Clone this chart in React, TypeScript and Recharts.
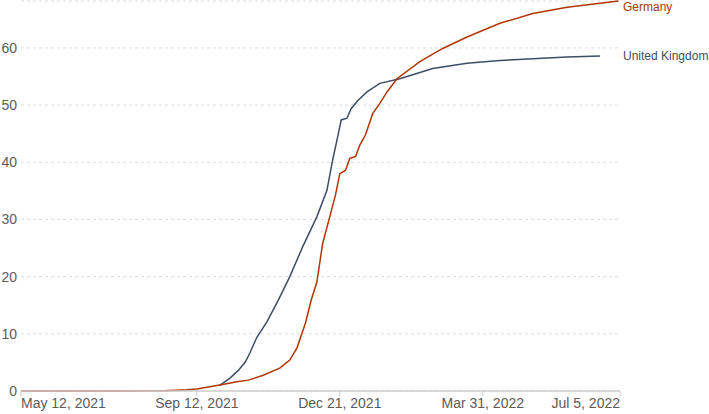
import { LineChart, Line, XAxis, YAxis, CartesianGrid } from 'recharts'

// days counted from May 12, 2021
const tickDays = [0, 123, 223, 323, 419]
const tickLabels = ['May 12, 2021', 'Sep 12, 2021', 'Dec 21, 2021', 'Mar 31, 2022', 'Jul 5, 2022']
const yTicks = [0, 10, 20, 30, 40, 50, 60]

const ukDays = [139, 146, 152, 157, 160, 165, 172, 180, 188, 197, 207, 214, 218, 222, 224, 228, 231, 236, 242, 251, 265, 288, 312, 335, 358, 382, 405]
const ukValues = [1.0, 2.2, 3.6, 5.1, 6.6, 9.4, 12.1, 15.9, 20.0, 25.2, 30.5, 35.1, 40.4, 45.0, 47.4, 47.7, 49.4, 50.9, 52.3, 53.8, 54.6, 56.4, 57.3, 57.8, 58.1, 58.4, 58.6]

const deDays = [0, 69, 100, 116, 123, 132, 141, 151, 159, 169, 181, 188, 193, 199, 203, 207, 211, 216, 220, 223, 227, 230, 234, 237, 241, 246, 251, 256, 263, 279, 295, 312, 335, 358, 382, 405, 418]
const deValues = [0, 0, 0.05, 0.2, 0.35, 0.75, 1.15, 1.6, 1.9, 2.7, 4.0, 5.4, 7.5, 11.9, 15.9, 19.1, 25.8, 30.5, 34.3, 38.0, 38.6, 40.7, 41.0, 43.0, 44.8, 48.5, 50.3, 52.3, 54.6, 57.6, 59.9, 61.9, 64.3, 66.0, 67.1, 67.8, 68.2]

const ukData = ukDays.map((day, i) => ({ day, value: ukValues[i] }))
const deData = deDays.map((day, i) => ({ day, value: deValues[i] }))

const UK_COLOR = '#3c4e66'
const DE_COLOR = '#b13507'
const LABEL_X = 623

function DateTick(props: any) {
  const { x, y, payload } = props
  const i = tickDays.indexOf(payload.value)
  const anchor = i === 0 ? 'start' : i === tickDays.length - 1 ? 'end' : 'middle'
  return (
    <text x={x} y={y} dy="0.71em" textAnchor={anchor} fill="#5b5b5b" fontSize={14}>
      {tickLabels[i]}
    </text>
  )
}

function ValueTick(props: any) {
  const { y, payload } = props
  return (
    <text x={17} y={y} dy="0.35em" textAnchor="end" fill="#5b5b5b" fontSize={14}>
      {payload.value}
    </text>
  )
}

function endLabel(name: string, color: string, count: number) {
  return (props: any) => {
    const { y, index } = props
    if (index !== count - 1) return <g />
    return (
      <text x={LABEL_X} y={Math.max(y, 7)} dy="0.35em" fill={color} fontSize={12}>
        {name}
      </text>
    )
  }
}

export default function App() {
  return (
    <div style={{ position: 'absolute', top: 0, left: 0 }}>
      <LineChart
        width={709}
        height={414}
        margin={{ top: 1, right: 89, bottom: 0, left: 0 }}
        style={{ fontFamily: '"Liberation Sans", Arial, sans-serif' }}
      >
        <CartesianGrid vertical={false} stroke="#ddd" strokeDasharray="3 3" />
        <XAxis
          dataKey="day"
          type="number"
          domain={[0, 419]}
          ticks={tickDays}
          tick={<DateTick />}
          height={23}
          axisLine={{ stroke: '#ccc', strokeWidth: 1.5 }}
          tickLine={{ stroke: '#ccc' }}
          tickSize={5}
          allowDuplicatedCategory={false}
        />
        <YAxis
          type="number"
          domain={[0, 68.2]}
          ticks={yTicks}
          width={21}
          axisLine={false}
          tickLine={false}
          tick={<ValueTick />}
        />
        <Line
          data={ukData}
          dataKey="value"
          stroke={UK_COLOR}
          strokeWidth={1.5}
          dot={false}
          isAnimationActive={false}
          label={endLabel('United Kingdom', UK_COLOR, ukData.length)}
        />
        <Line
          data={deData}
          dataKey="value"
          stroke={DE_COLOR}
          strokeWidth={1.5}
          dot={false}
          isAnimationActive={false}
          label={endLabel('Germany', DE_COLOR, deData.length)}
        />
      </LineChart>
    </div>
  )
}
